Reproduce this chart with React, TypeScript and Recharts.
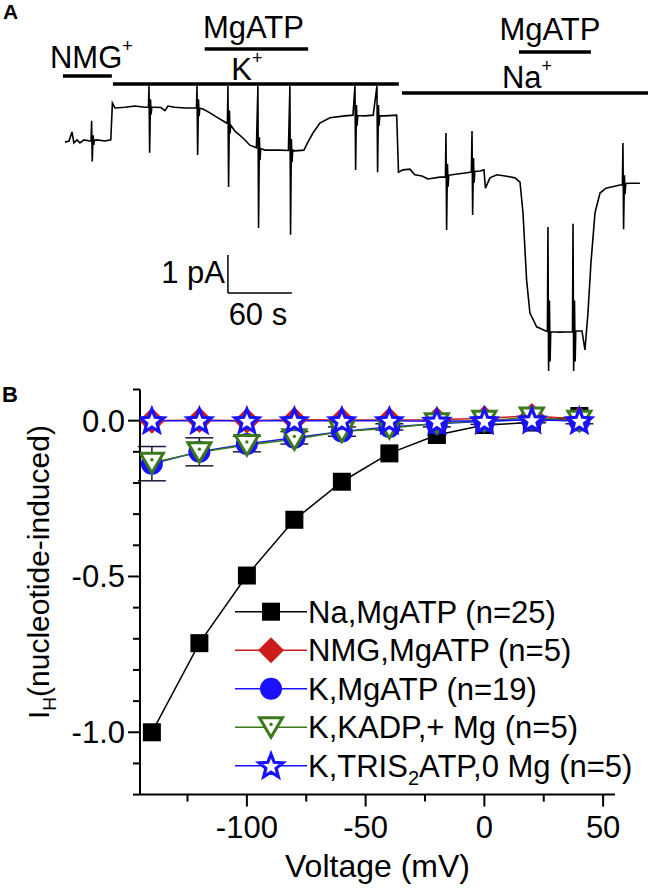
import React from 'react';
import { LineChart, Line, XAxis, YAxis, ReferenceLine, ErrorBar, Legend } from 'recharts';

const FONT = '"Liberation Sans", Arial, Helvetica, sans-serif';

// ---- panel A: holding current trace, [time (s), current (pA)] ----
const NMG_SEGMENT: [number, number][] = [
  [0, -0.03], [3.8, 0], [6.6, 0.24], [8.4, -0.05], [11.3, 0.03], [14, -0.05], [17.8, 0.03],
  [23.4, 0], [24.5, 0], [25, 0.53], [25.6, -0.54], [26.4, 0.15], [27, -0.1], [27.6, 0.02],
  [30, 0.03], [37.5, 0], [43, 0.03],
];

const K_SEGMENT: [number, number][] = [
  [44.5, 1.0], [46.9, 0.87], [56.3, 0.89], [65.6, 0.92], [75, 0.89], [78.3, 0.89], [78.8, 1.45],
  [79.4, -0.31], [80.2, 1.1], [80.8, 0.7], [81.4, 0.89], [84.4, 0.89], [90, 0.88], [93.8, 0.8],
  [96.6, 0.92], [103, 0.89], [112.5, 0.87], [121.9, 0.87], [123.3, 0.87], [123.8, 1.45],
  [124.4, -0.37], [125.2, 1.1], [125.8, 0.65], [126.4, 0.86], [129.4, 0.84], [135.9, 0.74],
  [143.4, 0.61], [150, 0.5], [152.3, 0.46], [152.8, 1.45], [153.4, -1.21], [154.2, 0.8],
  [154.8, 0.2], [155.4, 0.42], [159.4, 0.26], [166.9, 0.08], [173.4, -0.11], [179.5, -0.18],
  [180.9, 1.45], [181.5, -2.29], [182.3, 0.1], [182.9, -0.5], [183.5, -0.2], [187.5, -0.24],
  [201.6, -0.24], [209.5, -0.25], [210.9, 1.45], [211.5, -2.47], [212.3, 0.05], [212.9, -0.55],
  [213.5, -0.24], [215.6, -0.26], [224, -0.24], [227.8, -0.03], [232.5, 0.21], [239, 0.47],
  [248.4, 0.61], [262.5, 0.66], [270, 0.68], [271.9, 1.45], [272.5, -0.76], [273.3, 0.95],
  [273.9, 0.4], [274.5, 0.67], [281, 0.66], [289, 0.68], [292.5, 1.45], [293.1, -0.82],
  [293.9, 0.95], [294.5, 0.4], [295.1, 0.66], [300, 0.66], [311, 0.68],
];

const NA_SEGMENT: [number, number][] = [
  [312.7, -0.82], [316.9, -0.76], [323.4, -0.74], [328, -0.89], [334.7, -0.92], [340.3, -1.0],
  [351.6, -0.95], [356.7, -0.95], [357.2, 0.21], [357.8, -2.34], [358.6, -0.6], [359.2, -1.2],
  [359.8, -0.9], [362.8, -0.89], [375, -0.84], [381, -0.82], [381.6, 0.26], [382.2, -1.95],
  [383, -0.45], [383.6, -1.1], [384.2, -0.8], [389, -0.79], [392.8, -0.76], [394.2, -1.24],
  [398.4, -0.97], [405, -0.89], [412.5, -0.92], [421.9, -0.97], [426.6, -1.08], [429.4, -1.89],
  [432.8, -3.66], [435.9, -4.53], [442.2, -4.89], [450.9, -5.0], [452.3, -5.01], [452.8, -2.26],
  [453.4, -6.05], [454.2, -4.2], [454.8, -5.8], [455.4, -5.02], [464, -5.03], [475.8, -5.02],
  [476.3, -2.18], [476.9, -6.05], [477.7, -4.2], [478.3, -5.8], [478.9, -5.0], [484.7, -5.0],
  [487.5, -5.5], [490.3, -4.53], [493.1, -3.21], [496.9, -1.89], [501.6, -1.37], [507.2, -1.24],
  [520.3, -1.16], [522.6, -1.15], [523.1, -0.05], [523.7, -2.32], [524.5, -0.9], [525.1, -1.4],
  [525.7, -1.12], [529.7, -1.11], [539, -1.11],
];

// solution application bars (s)
const BAR_NAMES = ['NMG', 'K', 'MgATP', 'Na', 'MgATP'];
const BAR_SUPS = ['+', '+', '', '+', ''];
const BAR_START = [-1.9, 45, 131, 316, 425.6];
const BAR_END = [44, 313, 228, 546.6, 493.1];

// scale bar
const SCALE_SEC = 60;
const SCALE_PA = 1;

// ---- panel B: I-V data ----
const VOLTAGES = [-140, -120, -100, -80, -60, -40, -20, 0, 20, 40];
const NA_MGATP = [-1.0, -0.714, -0.497, -0.318, -0.196, -0.105, -0.046, -0.014, -0.006, 0.015];
const NMG_MGATP = [0.0, 0.002, 0.0, 0.003, 0.002, 0.002, 0.003, 0.008, 0.015, 0.005];
const K_MGATP = [-0.138, -0.1, -0.075, -0.055, -0.035, -0.02, -0.01, -0.002, 0.003, 0.0];
const K_MGATP_SEM = [0.055, 0.045, 0.025, 0.02, 0.015, 0.01, 0.01, 0.01, 0.01, 0.01];
const K_KADP = [-0.135, -0.101, -0.078, -0.06, -0.035, -0.024, -0.008, 0.0, 0.01, 0.0];
const K_TRIS = [0.0, 0.0, 0.0, 0.0, 0.0, 0.0, -0.002, 0.0, 0.002, 0.0];

const Y_TICKS = [-1.2, -1.1, -1.0, -0.9, -0.8, -0.7, -0.6, -0.5, -0.4, -0.3, -0.2, -0.1, 0, 0.1];
const Y_LABELS = [-1.0, -0.5, 0];
const X_TICKS = [-125, -100, -75, -50, -25, 0, 25, 50];
const X_LABELS = [-100, -50, 0, 50];

type Shape = 'square' | 'diamond' | 'circle' | 'triDown' | 'star';

const SERIES: { key: string; label: string[]; color: string; shape: Shape }[] = [
  { key: 'na', label: ['Na,MgATP (n=25)'], color: '#000000', shape: 'square' },
  { key: 'nmg', label: ['NMG,MgATP (n=5)'], color: '#cc1c1c', shape: 'diamond' },
  { key: 'k', label: ['K,MgATP (n=19)'], color: '#1a12ff', shape: 'circle' },
  { key: 'kadp', label: ['K,KADP,+ Mg (n=5)'], color: '#3a7a1a', shape: 'triDown' },
  { key: 'tris', label: ['K,TRIS', '2', 'ATP,0 Mg (n=5)'], color: '#1a12ff', shape: 'star' },
];

const FS = 31;

const trace = [...NMG_SEGMENT, ...K_SEGMENT, ...NA_SEGMENT].map(([t, i]) => ({ t, i }));

const ivData = VOLTAGES.map((v, idx) => ({
  v,
  na: NA_MGATP[idx],
  nmg: NMG_MGATP[idx],
  k: K_MGATP[idx],
  kErr: K_MGATP_SEM[idx],
  kadp: K_KADP[idx],
  tris: K_TRIS[idx],
}));

function Marker({ shape, cx, cy, color }: { shape: Shape; cx: number; cy: number; color: string }) {
  if (cx == null || cy == null) return null;
  switch (shape) {
    case 'square':
      return <rect x={cx - 9} y={cy - 9} width={18} height={18} fill={color} />;
    case 'diamond':
      return (
        <polygon
          points={`${cx},${cy - 13} ${cx + 13},${cy} ${cx},${cy + 13} ${cx - 13},${cy}`}
          fill={color}
        />
      );
    case 'circle':
      return <circle cx={cx} cy={cy} r={11} fill={color} />;
    case 'triDown':
      return (
        <g>
          <polygon
            points={`${cx - 11.5},${cy - 9.5} ${cx + 11.5},${cy - 9.5} ${cx},${cy + 10}`}
            fill="#fff"
            stroke={color}
            strokeWidth={3}
          />
          <circle cx={cx} cy={cy - 3} r={1.7} fill={color} />
        </g>
      );
    case 'star': {
      const pts: string[] = [];
      for (let j = 0; j < 10; j++) {
        const r = j % 2 === 0 ? 12.5 : 5.4;
        const a = -Math.PI / 2 + (j * Math.PI) / 5;
        pts.push(`${cx + r * Math.cos(a)},${cy + 1 + r * Math.sin(a)}`);
      }
      return <polygon points={pts.join(' ')} fill="#fff" stroke={color} strokeWidth={3.2} strokeLinejoin="miter" />;
    }
  }
  return null;
}

const barLabel = (name: string, sup: string, dx: number, dy: number) => (p: any) => {
  const vb = p.viewBox ?? { x: 0, y: 0, width: 0, height: 0 };
  return (
    <text x={vb.x + vb.width / 2 + dx} y={vb.y + dy} textAnchor="middle" fontSize={FS} fill="#000">
      {name}
      {sup ? (
        <tspan dy={-16} fontSize={18}>
          {sup}
        </tspan>
      ) : null}
    </text>
  );
};

// bar heights (pA) and label nudges
const BAR_LEVEL = [1.71, 1.5, 2.42, 1.26, 2.34];
const BAR_LABEL_DX = [4, -9, -3, 2, -5];
const BAR_LABEL_DY = [-8, -4, -11, -5, -12];

function TraceChart() {
  const t0 = 152.8;
  const i0 = -4;
  return (
    <LineChart width={650} height={380} data={trace} margin={{ top: 8, right: 0.5, left: 2, bottom: 3.4 }}>
      <XAxis dataKey="t" type="number" domain={[-59, 548]} hide allowDataOverflow />
      <YAxis type="number" domain={[-6.2, 3.5]} hide allowDataOverflow width={0} />
      <Line dataKey="i" stroke="#000" strokeWidth={1.6} dot={false} activeDot={false} isAnimationActive={false} type="linear" />
      {BAR_NAMES.map((n, j) => (
        <ReferenceLine
          key={j}
          segment={[{ x: BAR_START[j], y: BAR_LEVEL[j] }, { x: BAR_END[j], y: BAR_LEVEL[j] }]}
          stroke="#000"
          strokeWidth={3.5}
          label={barLabel(n, BAR_SUPS[j], BAR_LABEL_DX[j], BAR_LABEL_DY[j])}
        />
      ))}
      <ReferenceLine
        segment={[{ x: t0, y: i0 }, { x: t0, y: i0 + SCALE_PA }]}
        stroke="#000"
        strokeWidth={1.5}
        label={(p: any) => (
          <text x={p.viewBox.x - 3} y={p.viewBox.y + p.viewBox.height / 2 + 9} textAnchor="end" fontSize={FS}>
            {`${SCALE_PA} pA`}
          </text>
        )}
      />
      <ReferenceLine
        segment={[{ x: t0, y: i0 }, { x: t0 + SCALE_SEC, y: i0 }]}
        stroke="#000"
        strokeWidth={1.5}
        label={(p: any) => (
          <text x={p.viewBox.x + p.viewBox.width / 2 - 2} y={p.viewBox.y + 32} textAnchor="middle" fontSize={FS}>
            {`${SCALE_SEC} s`}
          </text>
        )}
      />
    </LineChart>
  );
}

const near = (list: number[], v: number) => list.some((u) => Math.abs(u - v) < 1e-6);

function YTick(p: any) {
  const { x, y, payload } = p;
  const major = near(Y_LABELS, payload.value);
  return (
    <g>
      <line x1={x} x2={x - (major ? 12 : 7)} y1={y} y2={y} stroke="#000" strokeWidth={2} />
      {major && (
        <text x={x - 15} y={y + 11} textAnchor="end" fontSize={FS} fill="#000">
          {Number(payload.value).toFixed(1)}
        </text>
      )}
    </g>
  );
}

function XTick(p: any) {
  const { x, y, payload } = p;
  const major = near(X_LABELS, payload.value);
  return (
    <g>
      <line x1={x} x2={x} y1={y} y2={y + (major ? 12 : 7)} stroke="#000" strokeWidth={2} />
      {major && (
        <text x={x} y={y + 43} textAnchor="middle" fontSize={FS} fill="#000">
          {payload.value}
        </text>
      )}
    </g>
  );
}

function LegendBox() {
  return (
    <svg width={420} height={200} style={{ overflow: 'visible' }}>
      {SERIES.map((s, i) => {
        const cy = 19.7 + i * 38.5;
        return (
          <g key={s.key}>
            <line x1={5} x2={77} y1={cy} y2={cy} stroke={s.color} strokeWidth={1.5} />
            <Marker shape={s.shape} cx={41} cy={cy} color={s.color} />
            <text x={78} y={cy + 11} fontSize={FS} fill="#000" fontFamily={FONT}>
              {s.label[0]}
              {s.label.length > 1 && (
                <>
                  <tspan dy={8} fontSize={20}>
                    {s.label[1]}
                  </tspan>
                  <tspan dy={-8}>{s.label[2]}</tspan>
                </>
              )}
            </text>
          </g>
        );
      })}
    </svg>
  );
}

function IvChart() {
  return (
    <LineChart width={650} height={508} data={ivData} margin={{ top: 9.5, right: 35, bottom: 33.4, left: 40 }}>
      <XAxis
        dataKey="v"
        type="number"
        domain={[-145, 55]}
        ticks={X_TICKS}
        interval={0}
        allowDataOverflow
        height={60}
        tickSize={0}
        tickMargin={0}
        tickLine={false}
        axisLine={{ stroke: '#000', strokeWidth: 2 }}
        tick={<XTick />}
        label={(p: any) => (
          <text x={p.viewBox.x + p.viewBox.width / 2} y={p.viewBox.y + 82.4} textAnchor="middle" fontSize={32} fill="#000">
            Voltage (mV)
          </text>
        )}
      />
      <YAxis
        type="number"
        domain={[-1.2, 0.1]}
        ticks={Y_TICKS}
        interval={0}
        allowDataOverflow
        width={100}
        tickSize={0}
        tickMargin={0}
        tickLine={false}
        axisLine={{ stroke: '#000', strokeWidth: 2 }}
        tick={<YTick />}
        label={(p: any) => {
          const x = p.viewBox.x + 9;
          const y = p.viewBox.y + p.viewBox.height / 2 - 20;
          return (
            <text x={x} y={y} transform={`rotate(-90, ${x}, ${y})`} textAnchor="middle" fontSize={30} fill="#000">
              I
              <tspan dy={7} fontSize={19}>
                H
              </tspan>
              <tspan dy={-7}>(nucleotide-induced)</tspan>
            </text>
          );
        }}
      />
      {SERIES.map((s) => (
        <Line
          key={s.key}
          dataKey={s.key}
          stroke={s.color}
          strokeWidth={1.5}
          type="linear"
          isAnimationActive={false}
          activeDot={false}
          dot={(p: any) => <Marker key={`${s.key}-${p.index}`} shape={s.shape} cx={p.cx} cy={p.cy} color={s.color} />}
        >
          {s.key === 'k' && <ErrorBar dataKey="kErr" direction="y" width={14} stroke="#1a1a3a" strokeWidth={1.5} />}
        </Line>
      ))}
      <Legend
        layout="vertical"
        align="center"
        verticalAlign="middle"
        content={() => <LegendBox />}
        wrapperStyle={{ left: 230, top: 212, width: 420, height: 200 }}
      />
    </LineChart>
  );
}

export default function App() {
  return (
    <div style={{ position: 'absolute', left: 0, top: 0, width: 650, height: 888, background: '#fff', fontFamily: FONT }}>
      <div style={{ position: 'absolute', left: 0, top: 0 }}>
        <TraceChart />
      </div>
      <div style={{ position: 'absolute', left: 0, top: 380 }}>
        <IvChart />
      </div>
      <svg width={40} height={410} style={{ position: 'absolute', left: 0, top: 0, pointerEvents: 'none' }}>
        <text x={3} y={18.5} fontSize={21} fontWeight="bold" fill="#000" fontFamily={FONT}>
          A
        </text>
        <text x={2} y={401.5} fontSize={22} fontWeight="bold" fill="#000" fontFamily={FONT}>
          B
        </text>
      </svg>
    </div>
  );
}
